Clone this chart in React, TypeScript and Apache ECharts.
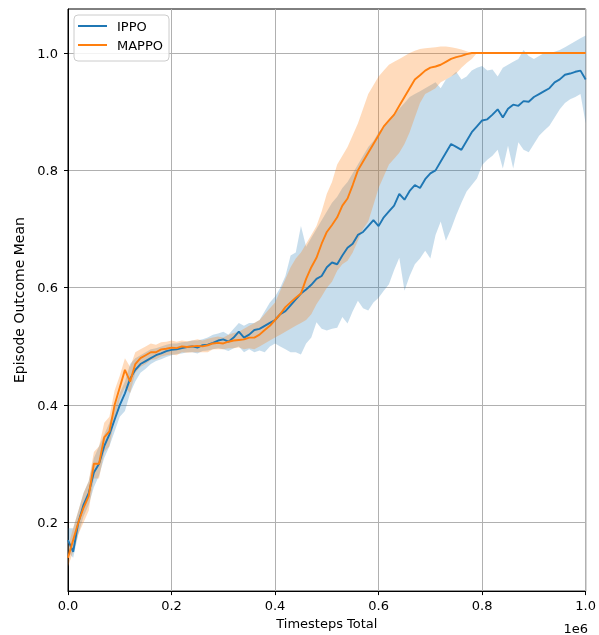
import React, { useEffect, useRef } from "react";
import * as echarts from "echarts";

// Timesteps (in units of 1e6)
const timesteps = [
  0.0, 0.01, 0.02, 0.03, 0.04, 0.05, 0.06, 0.07, 0.08, 0.09,
  0.1, 0.11, 0.12, 0.13, 0.14, 0.15, 0.16, 0.17, 0.18, 0.19,
  0.2, 0.21, 0.22, 0.23, 0.24, 0.25, 0.26, 0.27, 0.28, 0.29,
  0.3, 0.31, 0.32, 0.33, 0.34, 0.35, 0.36, 0.37, 0.38, 0.39,
  0.4, 0.41, 0.42, 0.43, 0.44, 0.45, 0.46, 0.47, 0.48, 0.49,
  0.5, 0.51, 0.52, 0.53, 0.54, 0.55, 0.56, 0.57, 0.58, 0.59,
  0.6, 0.61, 0.62, 0.63, 0.64, 0.65, 0.66, 0.67, 0.68, 0.69,
  0.7, 0.71, 0.72, 0.73, 0.74, 0.75, 0.76, 0.77, 0.78, 0.79,
  0.8, 0.81, 0.82, 0.83, 0.84, 0.85, 0.86, 0.87, 0.88, 0.89,
  0.9, 0.91, 0.92, 0.93, 0.94, 0.95, 0.96, 0.97, 0.98, 0.99,
  1.0,
];

const ippoMean = [
  0.17, 0.15, 0.2, 0.23, 0.25, 0.285, 0.3, 0.33, 0.35, 0.375,
  0.4, 0.42, 0.445, 0.46, 0.47, 0.475, 0.48, 0.485, 0.488, 0.492,
  0.494, 0.495, 0.497, 0.499, 0.5, 0.498, 0.502, 0.503, 0.506, 0.51,
  0.512, 0.508, 0.515, 0.525, 0.515, 0.52, 0.528, 0.53, 0.535, 0.54,
  0.545, 0.555, 0.56, 0.57, 0.58, 0.59, 0.597, 0.605, 0.615, 0.62,
  0.635, 0.643, 0.64, 0.655, 0.668, 0.675, 0.69, 0.695, 0.705, 0.715,
  0.705, 0.72, 0.73, 0.74, 0.76, 0.75, 0.765, 0.775, 0.77, 0.785,
  0.795, 0.8, 0.815, 0.83, 0.845, 0.84, 0.835, 0.85, 0.865, 0.875,
  0.885, 0.887, 0.895, 0.904, 0.89, 0.905, 0.912, 0.91, 0.918, 0.917,
  0.925, 0.93, 0.935, 0.94, 0.95, 0.955, 0.963, 0.965, 0.968, 0.97,
  0.955,
];

const ippoUpper = [
  0.19, 0.19, 0.22, 0.25, 0.27, 0.31, 0.33, 0.35, 0.37, 0.395,
  0.42, 0.44, 0.47, 0.48, 0.485, 0.49, 0.495, 0.497, 0.5, 0.503,
  0.505, 0.505, 0.507, 0.508, 0.51, 0.51, 0.512, 0.515, 0.52, 0.522,
  0.525, 0.52, 0.53, 0.54, 0.535, 0.54, 0.54, 0.545, 0.56, 0.575,
  0.585, 0.6, 0.62, 0.655, 0.66, 0.705, 0.67, 0.685, 0.7, 0.715,
  0.73, 0.745, 0.755, 0.77, 0.78, 0.795, 0.81, 0.825, 0.84, 0.85,
  0.865, 0.875, 0.885, 0.895, 0.905, 0.915, 0.925, 0.93, 0.935, 0.94,
  0.945, 0.95, 0.94, 0.955, 0.96, 0.968, 0.955, 0.96, 0.97, 0.975,
  0.978, 0.97, 0.972, 0.96, 0.975, 0.98, 0.985, 0.99, 1.005, 0.995,
  0.99, 0.995, 1.0, 1.0, 1.002, 1.005, 1.01, 1.015, 1.02, 1.025,
  1.03,
];

const ippoLower = [
  0.15, 0.14, 0.18, 0.21, 0.23, 0.26, 0.28, 0.31, 0.33, 0.355,
  0.38, 0.39, 0.42, 0.44, 0.455, 0.462, 0.47, 0.475, 0.478, 0.482,
  0.485, 0.487, 0.488, 0.49, 0.49, 0.488, 0.492, 0.493, 0.495, 0.497,
  0.495, 0.492, 0.497, 0.5, 0.49, 0.495, 0.49, 0.493, 0.49, 0.5,
  0.505, 0.5, 0.495, 0.49, 0.49, 0.486, 0.505, 0.515, 0.541, 0.53,
  0.527, 0.53, 0.532, 0.55, 0.539, 0.56, 0.578, 0.565, 0.561, 0.575,
  0.583, 0.595, 0.606, 0.63, 0.651, 0.595, 0.62, 0.64, 0.65, 0.663,
  0.65, 0.69, 0.713, 0.68, 0.7, 0.724, 0.745, 0.764, 0.775, 0.786,
  0.809, 0.818, 0.825, 0.835, 0.803, 0.842, 0.803, 0.848, 0.835, 0.831,
  0.845, 0.859, 0.868, 0.876, 0.89, 0.904, 0.915, 0.921, 0.925, 0.93,
  0.88,
];

const mappoMean = [
  0.14, 0.17, 0.2, 0.225, 0.245, 0.3, 0.3, 0.345, 0.355, 0.4,
  0.43, 0.46, 0.44, 0.47, 0.48, 0.485, 0.49, 0.49, 0.495, 0.496,
  0.498, 0.497, 0.5, 0.499, 0.5, 0.501, 0.5, 0.502, 0.505, 0.506,
  0.505, 0.508, 0.51, 0.511, 0.512, 0.515, 0.515, 0.52, 0.528, 0.535,
  0.545, 0.555, 0.567, 0.575, 0.583, 0.59, 0.615, 0.635, 0.651, 0.675,
  0.695, 0.707, 0.72, 0.74, 0.752, 0.775, 0.8, 0.815, 0.83, 0.845,
  0.86, 0.875, 0.885, 0.895, 0.91, 0.925, 0.94, 0.955, 0.962, 0.97,
  0.975, 0.977, 0.98, 0.985, 0.99, 0.993, 0.995, 0.998, 1.0, 1.0,
  1.0, 1.0, 1.0, 1.0, 1.0, 1.0, 1.0, 1.0, 1.0, 1.0,
  1.0, 1.0, 1.0, 1.0, 1.0, 1.0, 1.0, 1.0, 1.0, 1.0,
  1.0,
];

const mappoUpper = [
  0.16, 0.19, 0.22, 0.25, 0.27, 0.32, 0.33, 0.37, 0.38, 0.425,
  0.45, 0.48, 0.465, 0.49, 0.495, 0.5, 0.505, 0.503, 0.507, 0.508,
  0.51, 0.508, 0.51, 0.509, 0.51, 0.512, 0.51, 0.513, 0.515, 0.517,
  0.515, 0.52, 0.523, 0.525, 0.53, 0.535, 0.54, 0.545, 0.555, 0.565,
  0.575, 0.595, 0.615, 0.635, 0.65, 0.66, 0.675, 0.69, 0.705, 0.73,
  0.76, 0.78, 0.81, 0.825, 0.84, 0.86, 0.88, 0.905, 0.93, 0.945,
  0.96, 0.97, 0.98, 0.985, 0.99, 0.995, 1.0, 1.004, 1.007, 1.008,
  1.009, 1.01, 1.011, 1.011, 1.01, 1.008, 1.006, 1.003, 1.0, 1.0,
  1.0, 1.0, 1.0, 1.0, 1.0, 1.0, 1.0, 1.0, 1.0, 1.0,
  1.0, 1.0, 1.0, 1.0, 1.0, 1.0, 1.0, 1.0, 1.0, 1.0,
  1.0,
];

const mappoLower = [
  0.125, 0.15, 0.18, 0.2, 0.22, 0.275, 0.275, 0.32, 0.33, 0.375,
  0.41, 0.43, 0.42, 0.455, 0.465, 0.47, 0.477, 0.478, 0.483, 0.485,
  0.486, 0.485, 0.49, 0.489, 0.49, 0.49, 0.49, 0.49, 0.495, 0.495,
  0.495, 0.497, 0.497, 0.498, 0.495, 0.497, 0.495, 0.5, 0.505, 0.51,
  0.515, 0.52, 0.525, 0.53, 0.535, 0.54, 0.545, 0.555, 0.572, 0.585,
  0.6, 0.61, 0.629, 0.64, 0.646, 0.66, 0.68, 0.7, 0.713, 0.741,
  0.77, 0.79, 0.81, 0.82, 0.83, 0.845, 0.865, 0.89, 0.915, 0.93,
  0.935, 0.94, 0.95, 0.955, 0.96, 0.965, 0.975, 0.983, 0.99, 1.0,
  1.0, 1.0, 1.0, 1.0, 1.0, 1.0, 1.0, 1.0, 1.0, 1.0,
  1.0, 1.0, 1.0, 1.0, 1.0, 1.0, 1.0, 1.0, 1.0, 1.0,
  1.0,
];

const xTicks = [0, 0.2, 0.4, 0.6, 0.8, 1.0];
const yTicks = [0.2, 0.4, 0.6, 0.8, 1.0];

const BLUE = "#1f77b4";
const ORANGE = "#ff7f0e";
const FONT = "DejaVu Sans";

export default function App() {
  const ref = useRef<HTMLDivElement>(null);

  useEffect(() => {
    if (!ref.current) return;
    const chart = echarts.init(ref.current, null, { renderer: "svg" });

    const pts = (ys: number[]) => timesteps.map((t, i) => [t, ys[i]]);

    // Confidence band drawn as one polygon through the axes' own scales.
    const band = (name: string, hi: number[], lo: number[], fill: string) => ({
      name,
      type: "custom",
      silent: true,
      clip: true,
      z: 1,
      encode: { x: 0, y: 1 },
      data: [[timesteps[0], lo[0]]],
      renderItem: (_params: any, api: any) => {
        const top = timesteps.map((t, i) => api.coord([t, hi[i]]));
        const bottom = timesteps.map((t, i) => api.coord([t, lo[i]])).reverse();
        return {
          type: "polygon",
          silent: true,
          shape: { points: top.concat(bottom) },
          style: { fill, stroke: "none" },
        };
      },
    });

    const meanLine = (name: string, ys: number[], color: string) => ({
      name,
      type: "line",
      data: pts(ys),
      symbol: "none",
      z: 3,
      itemStyle: { color },
      lineStyle: { color, width: 1.9 },
      emphasis: { disabled: true },
    });

    const option: any = {
      animation: false,
      textStyle: { fontFamily: FONT },
      grid: {
        left: 68,
        top: 9,
        width: 520,
        height: 588,
        show: true,
        borderColor: "#000",
        borderWidth: 1,
        backgroundColor: "transparent",
        containLabel: false,
      },
      legend: {
        orient: "vertical",
        left: 74,
        top: 15,
        data: [
          { name: "IPPO", icon: "rect" },
          { name: "MAPPO", icon: "rect" },
        ],
        itemWidth: 29,
        itemHeight: 2,
        itemGap: 3,
        padding: [3, 6, 8, 4],
        backgroundColor: "rgba(255,255,255,0.85)",
        borderColor: "#cccccc",
        borderWidth: 1,
        borderRadius: 4,
        textStyle: {
          fontFamily: FONT,
          fontSize: 13,
          color: "#000",
          lineHeight: 16,
          padding: [0, 0, 0, 5],
        },
      },
      xAxis: {
        type: "value",
        min: 0,
        max: 1,
        interval: 0.2,
        name: "Timesteps Total",
        nameLocation: "middle",
        nameGap: 25,
        nameTextStyle: { fontFamily: FONT, fontSize: 13, color: "#000" },
        axisLine: { show: true, onZero: false, lineStyle: { color: "#000", width: 1 } },
        axisTick: { show: true, length: 4, lineStyle: { color: "#000", width: 1 } },
        axisLabel: {
          fontFamily: FONT,
          fontSize: 13,
          color: "#000",
          margin: 8,
          formatter: (v: number) => v.toFixed(1),
          customValues: xTicks,
        },
        splitLine: { show: true, lineStyle: { color: "#b0b0b0", width: 1 } },
      },
      yAxis: {
        type: "value",
        min: 0.083,
        max: 1.075,
        name: "Episode Outcome Mean",
        nameLocation: "middle",
        nameGap: 34,
        nameTextStyle: { fontFamily: FONT, fontSize: 14, color: "#000" },
        axisLine: { show: true, onZero: false, lineStyle: { color: "#000", width: 1 } },
        axisTick: {
          show: true,
          length: 4,
          lineStyle: { color: "#000", width: 1 },
          customValues: yTicks,
        },
        axisLabel: {
          fontFamily: FONT,
          fontSize: 13,
          color: "#000",
          margin: 10,
          formatter: (v: number) => v.toFixed(1),
          customValues: yTicks,
        },
        splitLine: { show: true, lineStyle: { color: "#b0b0b0", width: 1 } },
      },
      graphic: [
        {
          type: "text",
          right: 11,
          top: 622,
          style: {
            text: "1e6",
            fontFamily: FONT,
            fontSize: 13,
            fill: "#000",
          },
        },
      ],
      series: [
        band("IPPO band", ippoUpper, ippoLower, "rgba(31,119,180,0.25)"),
        band("MAPPO band", mappoUpper, mappoLower, "rgba(255,127,14,0.28)"),
        meanLine("IPPO", ippoMean, BLUE),
        meanLine("MAPPO", mappoMean, ORANGE),
      ],
    };

    chart.setOption(option);
    return () => chart.dispose();
  }, []);

  return (
    <div
      ref={ref}
      style={{ position: "fixed", left: 0, top: 0, width: 599, height: 635 }}
    />
  );
}
